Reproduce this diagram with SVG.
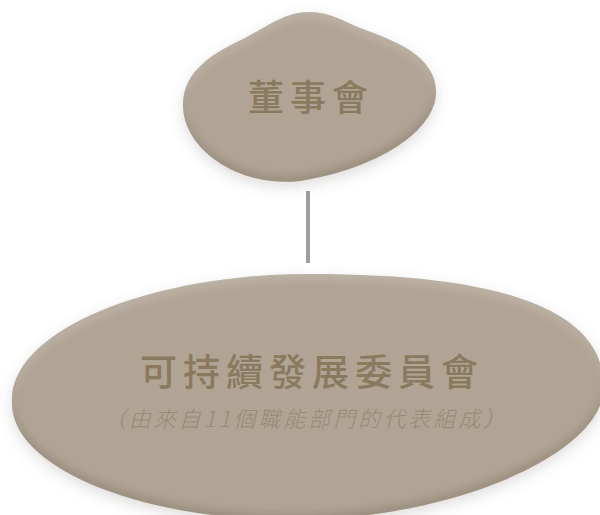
<svg xmlns="http://www.w3.org/2000/svg" width="600" height="515" viewBox="0 0 600 515">
  <defs>
    <style>
      .blob { fill: #b1a494; filter: url(#pebble); }
      .title { font-family: "Noto Sans CJK TC", "Noto Sans CJK SC", sans-serif; font-weight: 500; fill: #88795f; text-anchor: middle; }
      .sub { font-family: "Noto Sans CJK TC", "Noto Sans CJK SC", sans-serif; font-weight: 300; font-style: italic; fill: #978a76; text-anchor: middle; }
      .conn { stroke: #9d9ca3; stroke-width: 4; fill: none; }
    </style>
    <filter id="pebble" x="-15%" y="-15%" width="130%" height="140%">
      <feGaussianBlur in="SourceAlpha" stdDeviation="7" result="blur"/>
      <feOffset in="blur" dy="5" result="oblur"/>
      <feFlood flood-color="#6b6258" flood-opacity="0.22"/>
      <feComposite in2="oblur" operator="in" result="drop"/>
      <feGaussianBlur in="SourceAlpha" stdDeviation="4" result="ib"/>
      <feOffset in="ib" dy="-6" result="ibo"/>
      <feComposite in="SourceAlpha" in2="ibo" operator="out" result="edge"/>
      <feFlood flood-color="#5e5141" flood-opacity="0.35"/>
      <feComposite in2="edge" operator="in" result="inner"/>
      <feOffset in="ib" dy="6" result="ibo2"/>
      <feComposite in="SourceAlpha" in2="ibo2" operator="out" result="edge2"/>
      <feFlood flood-color="#ffffff" flood-opacity="0.12"/>
      <feComposite in2="edge2" operator="in" result="hi"/>
      <feMerge>
        <feMergeNode in="drop"/>
        <feMergeNode in="SourceGraphic"/>
        <feMergeNode in="inner"/>
        <feMergeNode in="hi"/>
      </feMerge>
    </filter>
  </defs>
  <rect width="600" height="515" fill="#ffffff"/>
  <g id="connectors">
    <line class="conn" x1="308" y1="191" x2="308" y2="263"/>
  </g>
  <g id="board">
    <path class="blob" d="M 310,12 C 330,12 345,22 360,28 C 400,42 436,58 436,92 C 436,130 380,168 300,181 C 240,188 183,150 183,105 C 183,70 215,52 245,38 C 270,25 285,12 310,12 Z"/>
    <text class="title" x="311" y="111" font-size="36" letter-spacing="6">董事會</text>
  </g>
  <g id="committee">
    <path class="blob" d="M 12,400 C 12,330 150,274 310,274 C 490,274 602,305 604,385 C 606,455 450,518 300,520 C 150,522 8,470 12,400 Z"/>
    <text class="title" x="312" y="386" font-size="37" letter-spacing="6">可持續發展委員會</text>
    <text class="sub" x="306" y="427" font-size="22" letter-spacing="3">（由來自11個職能部門的代表組成）</text>
  </g>
</svg>
